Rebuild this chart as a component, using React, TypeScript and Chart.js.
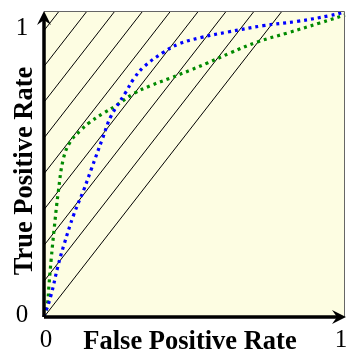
import React, { useEffect, useRef } from "react";
import { Chart, registerables } from "chart.js";

Chart.register(...registerables);

// Blue ROC curve
const blueFpr = [0, 0.023, 0.046, 0.066, 0.099, 0.132, 0.156, 0.195, 0.222, 0.272, 0.298, 0.331, 0.394, 0.447, 0.52, 0.609, 0.728, 0.841, 0.95, 1];
const blueTpr = [0, 0.07, 0.165, 0.235, 0.335, 0.415, 0.48, 0.585, 0.655, 0.735, 0.778, 0.817, 0.863, 0.892, 0.913, 0.931, 0.952, 0.966, 0.985, 0.997];

// Green ROC curve
const greenFpr = [0, 0.011, 0.017, 0.024, 0.034, 0.047, 0.065, 0.089, 0.123, 0.149, 0.199, 0.238, 0.298, 0.354, 0.42, 0.487, 0.543, 0.619, 0.709, 0.808, 0.917, 1];
const greenTpr = [0, 0.04, 0.11, 0.19, 0.29, 0.405, 0.52, 0.575, 0.611, 0.634, 0.667, 0.69, 0.73, 0.756, 0.781, 0.807, 0.83, 0.863, 0.899, 0.928, 0.961, 0.987];

// Hatch (iso) lines: y = slope * x + intercept
const hatchSlope = 1.264;
const hatchIntercepts = [0, 0.117, 0.234, 0.351, 0.468, 0.585, 0.702, 0.819, 0.936];

// Axis labels
const xTickLabels = ["0", "1"];
const yTickLabels = ["0", "1"];
const xTitle = "False Positive Rate";
const yTitle = "True Positive Rate";

const decorPlugin = {
  id: "decor",
  beforeDatasetsDraw(chart: any) {
    const { ctx, chartArea: a } = chart;
    ctx.save();
    ctx.fillStyle = "#fdfde2";
    ctx.fillRect(a.left, a.top, a.right - a.left, a.bottom - a.top);
    ctx.restore();
  },
  afterDatasetsDraw(chart: any) {
    const { ctx, chartArea: a } = chart;
    ctx.save();
    // thin grey frame top/right
    ctx.strokeStyle = "#666";
    ctx.lineWidth = 1;
    ctx.beginPath();
    ctx.moveTo(a.left, a.top + 0.5);
    ctx.lineTo(a.right - 0.5, a.top + 0.5);
    ctx.lineTo(a.right - 0.5, a.bottom);
    ctx.stroke();
    // thick axes
    ctx.strokeStyle = "#000";
    ctx.lineWidth = 3.5;
    ctx.beginPath();
    ctx.moveTo(a.left, a.bottom);
    ctx.lineTo(a.left, a.top + 6);
    ctx.moveTo(a.left, a.bottom);
    ctx.lineTo(a.right - 6, a.bottom);
    ctx.stroke();
    // arrow heads
    ctx.fillStyle = "#000";
    ctx.beginPath();
    ctx.moveTo(a.left, a.top);
    ctx.lineTo(a.left - 7, a.top + 14);
    ctx.lineTo(a.left, a.top + 9);
    ctx.lineTo(a.left + 7, a.top + 14);
    ctx.closePath();
    ctx.fill();
    ctx.beginPath();
    ctx.moveTo(a.right + 1, a.bottom);
    ctx.lineTo(a.right - 13, a.bottom - 7);
    ctx.lineTo(a.right - 8, a.bottom);
    ctx.lineTo(a.right - 13, a.bottom + 7);
    ctx.closePath();
    ctx.fill();

    // tick labels
    ctx.fillStyle = "#000";
    ctx.font = "25px 'Liberation Serif'";
    ctx.textAlign = "center";
    ctx.textBaseline = "alphabetic";
    ctx.fillText(yTickLabels[1], a.left - 22, a.top + 24);
    ctx.fillText(yTickLabels[0], a.left - 22, a.bottom + 5);
    ctx.fillText(xTickLabels[0], a.left + 2, a.bottom + 30);
    ctx.fillText(xTickLabels[1], a.right - 4, a.bottom + 30);

    // titles
    ctx.font = "bold 26.5px 'Liberation Serif'";
    ctx.fillText(xTitle, 190, a.bottom + 32);
    ctx.save();
    ctx.translate(a.left - 12, 171);
    ctx.rotate(-Math.PI / 2);
    ctx.fillText(yTitle, 0, 0);
    ctx.restore();
    ctx.restore();
  },
};

export default function App() {
  const ref = useRef<HTMLCanvasElement | null>(null);
  useEffect(() => {
    document.body.style.margin = "0";
    const canvas = ref.current!;
    const hatchSets = hatchIntercepts.map((c) => ({
      type: "line" as const,
      data: [
        { x: 0, y: c },
        { x: (1 - c) / hatchSlope, y: 1 },
      ],
      borderColor: "#000",
      borderWidth: 1,
      pointRadius: 0,
      tension: 0,
    }));
    const chart = new Chart(canvas, {
      type: "line",
      data: {
        datasets: [
          {
            label: "blue",
            data: blueFpr.map((x, i) => ({ x, y: blueTpr[i] })),
            borderColor: "#0000ff",
            borderWidth: 3.2,
            borderDash: [3, 4],
            borderCapStyle: "butt",
            pointRadius: 0,
            tension: 0.4,
            clip: 4,
          },
          {
            label: "green",
            data: greenFpr.map((x, i) => ({ x, y: greenTpr[i] })),
            borderColor: "#008a00",
            borderWidth: 3.2,
            borderDash: [3, 4],
            borderCapStyle: "butt",
            pointRadius: 0,
            tension: 0.4,
            clip: 4,
          },
          ...hatchSets,
        ] as any,
      },
      options: {
        animation: false,
        responsive: false,
        layout: { padding: { left: 44, top: 11, right: 1, bottom: 33 } },
        plugins: { legend: { display: false }, tooltip: { enabled: false } },
        scales: {
          x: { type: "linear", min: 0, max: 1, display: false },
          y: { type: "linear", min: 0, max: 1, display: false },
        },
      },
      plugins: [decorPlugin],
    });
    return () => chart.destroy();
  }, []);
  return (
    <canvas
      ref={ref}
      width={346}
      height={350}
      style={{ display: "block", width: 346, height: 350 }}
    />
  );
}
